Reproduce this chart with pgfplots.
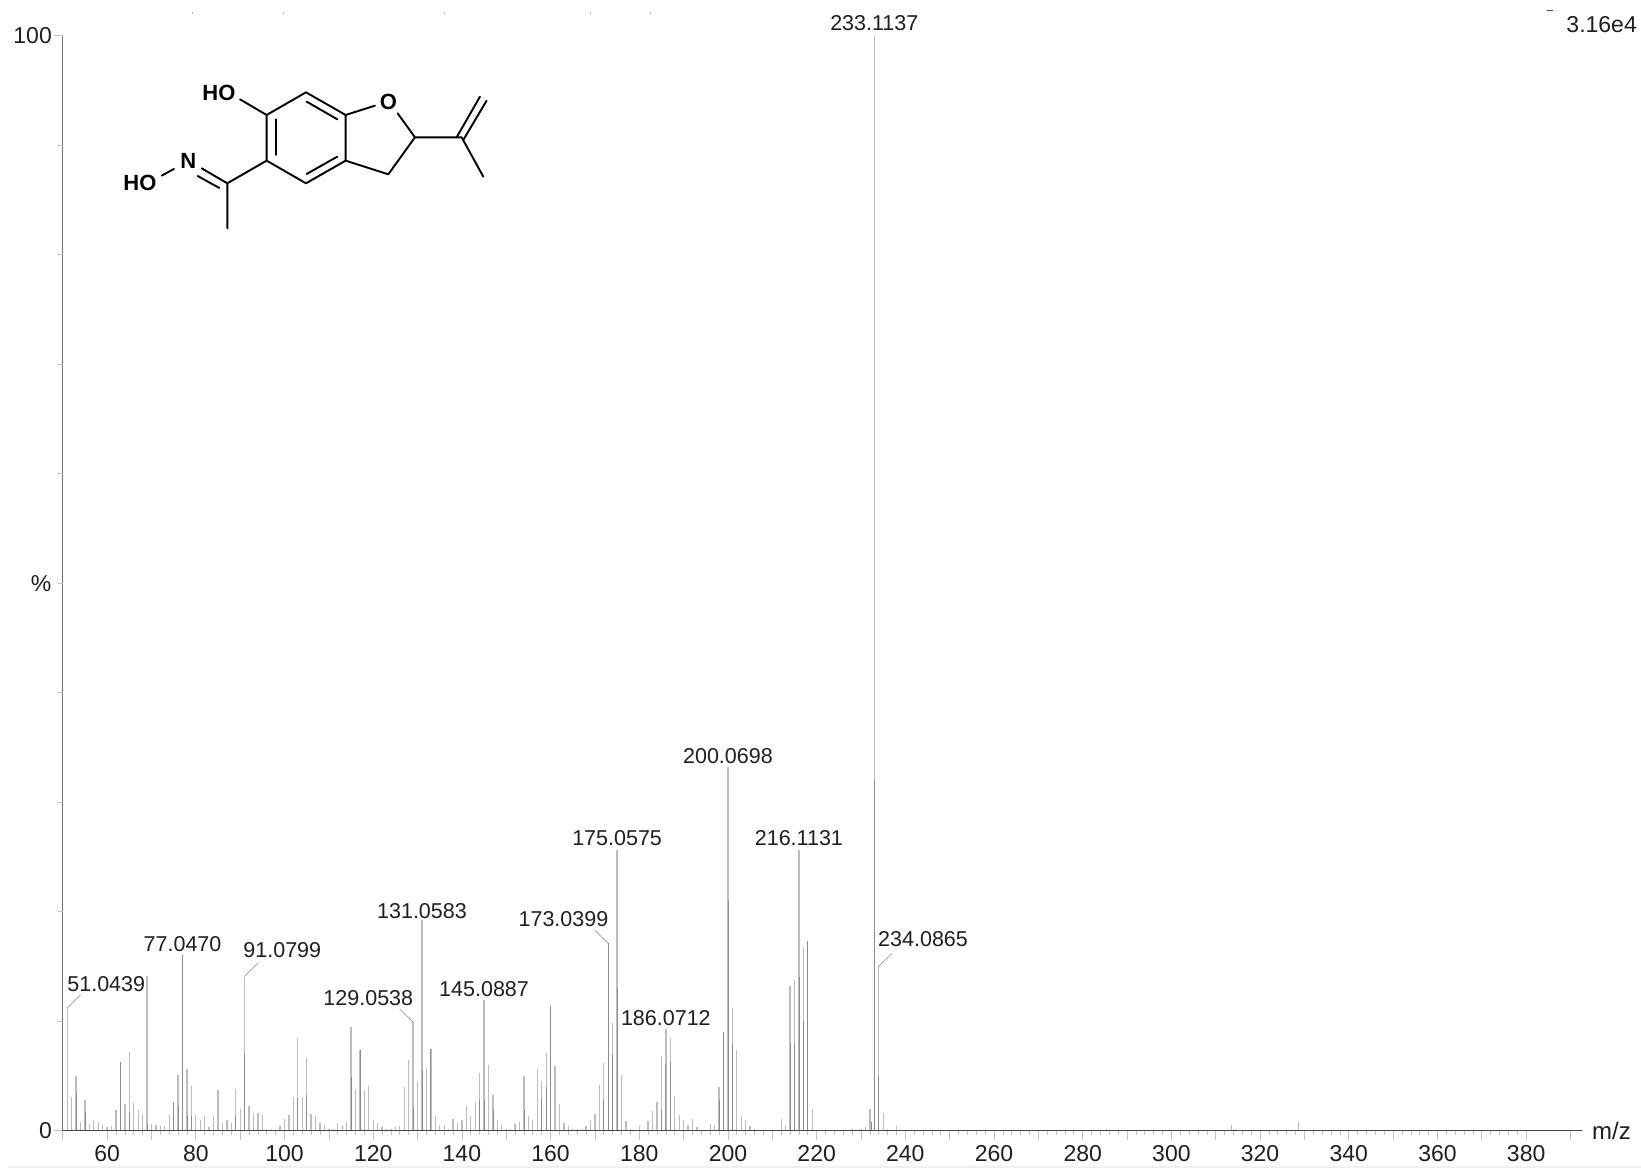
\documentclass[border=0pt]{standalone}
\usepackage{pgfplots}
\usepackage{pgfplotstable}
\usepackage{fontspec}
\setmainfont{Liberation Sans}
\pgfplotsset{compat=1.18}
\definecolor{speclight}{gray}{0.74}
\definecolor{specdark}{gray}{0.55}
\definecolor{axgray}{gray}{0.45}
\definecolor{leader}{gray}{0.6}
\definecolor{tickgray}{gray}{0.76}
\pgfplotstableread{
mz h
51 11.2
52 3.1
53 5.0
54 0.8
55 2.8
56 0.6
57 1.0
58 0.8
59 0.5
60 0.3
61 0.4
62 1.9
63 6.3
64 2.4
65 7.2
66 2.5
67 1.9
68 1.5
69 14.1
70 0.6
71 0.5
72 0.4
73 0.4
74 1.4
75 2.6
76 5.1
77 16.0
78 5.6
79 4.1
80 1.4
81 1.0
82 1.3
83 0.3
84 1.3
85 3.7
86 0.7
87 1.0
88 0.7
89 3.8
90 2.0
91 14.1
92 2.3
93 1.6
94 1.6
95 1.4
96 0.2
97 0.2
98 0.1
99 0.4
100 1.1
101 1.4
102 3.1
103 8.5
104 3.1
105 6.6
106 1.5
107 1.3
108 0.7
109 0.5
110 0.2
111 0.2
112 0.7
113 0.5
114 0.8
115 9.5
116 3.8
117 7.4
118 3.7
119 4.1
120 1.0
121 0.7
122 0.3
123 0.2
124 0.2
125 0.3
126 0.4
127 4.0
128 6.5
129 9.9
130 4.5
131 19.2
132 5.7
133 7.5
134 1.3
135 0.5
136 0.5
137 0.2
138 1.1
139 0.7
140 1.0
141 2.3
142 1.3
143 2.6
144 5.3
145 11.9
146 6.0
147 3.3
148 1.0
149 0.5
150 0.2
151 0.2
152 0.6
153 0.8
154 5.0
155 1.3
156 1.0
157 5.6
158 4.5
159 7.1
160 11.4
161 5.9
162 2.4
163 0.7
164 0.4
165 0.2
166 0.2
167 0.2
168 0.4
169 1.0
170 1.5
171 4.2
172 6.2
173 17.1
174 9.8
175 25.6
176 5.1
177 0.9
178 0.2
179 0.1
180 0.4
181 0.1
182 0.9
183 1.8
184 2.6
185 6.8
186 9.3
187 8.5
188 3.2
189 1.4
190 1.0
191 0.5
192 1.1
193 0.3
196 0.6
197 0.5
198 4.0
199 9.0
200 33.2
201 11.2
202 7.4
203 1.3
204 1.0
205 0.4
206 0.2
207 0.1
212 1.1
213 0.5
214 13.2
215 13.8
216 25.6
217 16.8
218 17.3
219 2.0
226 0.1
228 0.2
230 0.2
231 0.3
232 2.0
233 100
234 15.0
235 1.6
236 0.2
238 0.4
240 0.1
285.3 0.12
299.5 0.2
313.5 0.5
314.5 0.2
328.6 0.8
}\lighttable
\pgfplotstableread{
mz h
53 3.4
55 1.7
63 6.3
65 1.6
69 0.6
75 2.6
76 2.3
77 16.0
78 1.4
79 1.3
89 1.3
91 7.1
103 3.0
105 3.3
115 4.9
117 7.4
129 2.0
131 5.5
133 7.5
144 2.8
145 2.8
147 1.9
154 1.9
158 3.0
159 4.0
160 11.4
172 2.8
173 17.1
174 7.0
175 13.0
185 1.9
186 6.1
187 6.3
198 2.8
199 9.0
200 21.0
201 8.0
214 8.0
215 8.0
216 14.0
217 10.0
218 17.3
232.4 0.8
233 32.0
234 5.0
}\darktable
\begin{document}
\begin{tikzpicture}[x=1pt,y=1pt,every node/.style={font=\fontsize{21.5}{24}\selectfont,text=black!88,inner sep=0pt}]
\path (0,0) rectangle (1641,1168);
\fill[gray!12] (8,0) rectangle (1641,1.6);
\begin{axis}[
  at={(62.8pt,37.3pt)},anchor=south west,
  scale only axis,width=1519.2pt,height=1095.1pt,
  xmin=50,xmax=392.6,ymin=0,ymax=100,
  axis x line*=bottom,axis y line*=left,
  axis line style={axgray,line width=1.2pt,-},
  xtick={60,80,...,380},
  minor x tick num=9,
  extra x ticks={50,70,...,390},
  extra x tick labels={},
  ytick={0,100},
  yticklabels={},
  extra y ticks={10,20,...,90},
  extra y tick labels={},
  extra y tick style={major tick length=5pt},
  tick style={tickgray,line width=0.7pt},
  tick align=outside,
  major tick length=9pt,minor tick length=4pt,
  xticklabel style={font=\fontsize{23}{25}\selectfont,text=black!88,yshift=-6pt},
  /pgf/number format/assume math mode=true,
  clip=false,
]
\addplot[ycomb,no markers,speclight,line width=1.3pt] table[x=mz,y=h]{\lighttable};
\addplot[ycomb,no markers,specdark,line width=0.8pt] table[x=mz,y=h]{\darktable};
\draw[black!72,line width=1.5pt] (axis cs:50,0) -- (axis cs:392.6,0);
% peak labels
\node at (axis cs:233.0,100.4) [anchor=south] {233.1137};
\node at (axis cs:200.0,33.5) [anchor=south] {200.0698};
\node at (axis cs:175.0,26.0) [anchor=south] {175.0575};
\node at (axis cs:216.0,26.0) [anchor=south] {216.1131};
\node at (axis cs:131.0,19.3) [anchor=south] {131.0583};
\node at (axis cs:77.0,16.3) [anchor=south] {77.0470};
\node at (axis cs:145.0,12.2) [anchor=south] {145.0887};
\node at (axis cs:186.0,9.6) [anchor=south] {186.0712};
\draw[leader,line width=.7pt] (axis cs:173,17.1)--(axis cs:170,18.3);
\node at (axis cs:162.9,18.63) [anchor=south] {173.0399};
\draw[leader,line width=.7pt] (axis cs:91,14.1)--(axis cs:94,15.3);
\node at (axis cs:99.5,15.75) [anchor=south] {91.0799};
\draw[leader,line width=.7pt] (axis cs:129,9.9)--(axis cs:126,11.1);
\node at (axis cs:118.9,11.37) [anchor=south] {129.0538};
\draw[leader,line width=.7pt] (axis cs:51,11.2)--(axis cs:54,12.4);
\node at (axis cs:59.8,12.65) [anchor=south] {51.0439};
\draw[leader,line width=.7pt] (axis cs:234,15.0)--(axis cs:237,16.2);
\node at (axis cs:244,16.75) [anchor=south] {234.0865};
\end{axis}
% axis text
\node[anchor=east,font=\fontsize{23}{25}\selectfont] at (52,1132.5) {100};
\node[anchor=east,font=\fontsize{23}{25}\selectfont] at (52,37.5) {0};
\node[font=\fontsize{23}{25}\selectfont] at (41,584.5) {\%};
\node[anchor=east,font=\fontsize{23}{25}\selectfont] at (1637,1143) {3.16e4};
\node[anchor=west,font=\fontsize{24}{26}\selectfont] at (1592,37) {m/z};
% scan specks along the top edge
\foreach \sx in {192,283,444,590,650} \draw[gray!60,line width=.6pt] (\sx,1155.5)--(\sx,1153.5);
\draw[black!70,line width=.9pt] (1547,1158)--(1553,1158);
% structure: coordinates in 1/3 pt from the picture's (100,1108)
\begin{scope}[line width=1.9pt,black,line cap=round,line join=round,shift={(100,1108)},x=0.3333pt,y=-0.3333pt]
\draw (500,165)--(618,97)--(737,165)--(737,302)--(618,370)--(500,302)--cycle;
\draw (527,178)--(527,285);
\draw (620,125)--(712,178);
\draw (620,342)--(712,290);
\draw (500,165)--(420,118);
\draw (737,165)--(825,137);
\draw (893,160)--(945,232)--(865,343)--(737,302);
\draw (945,232)--(1085,232)--(1150,350);
\draw (1070,232)--(1140,110);
\draw (1090,240)--(1160,122);
\draw (500,302)--(382,370)--(382,505);
\draw (382,370)--(305,325);
\draw (358,384)--(293,348);
\draw (222,327)--(185,347);
\node[font=\bfseries\fontsize{22}{24}\selectfont,text=black] at (357,98) {HO};
\node[font=\bfseries\fontsize{22}{24}\selectfont,text=black] at (265,302) {N};
\node[font=\bfseries\fontsize{22}{24}\selectfont,text=black] at (120,370) {HO};
\node[font=\bfseries\fontsize{22}{24}\selectfont,text=black] at (865,125) {O};
\end{scope}
\end{tikzpicture}
\end{document}
